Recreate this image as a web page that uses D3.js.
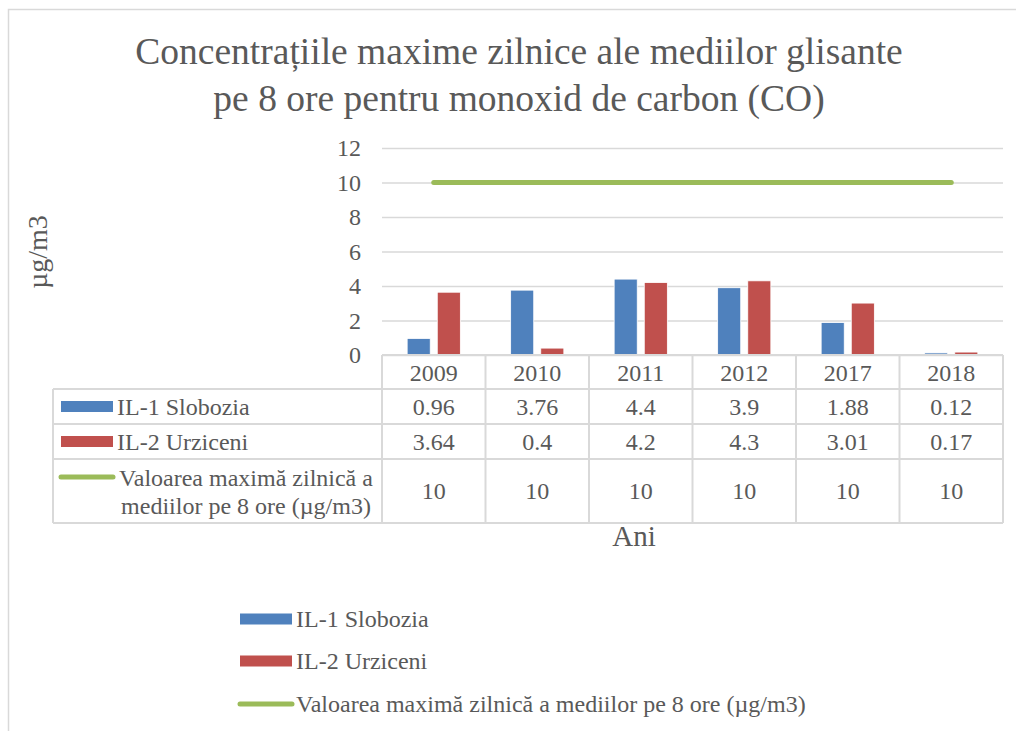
<!DOCTYPE html>
<html>
<head>
<meta charset="utf-8">
<script src="https://cdn.jsdelivr.net/npm/d3@7"></script>
<style>
  body { margin: 0; background: #fff; }
  svg, svg text { font-family: 'Times New Roman', 'Liberation Serif', 'DejaVu Serif', serif !important; }
</style>
</head>
<body>
<div id="chart"></div>
<script>
// values
const years = ['2009', '2010', '2011', '2012', '2017', '2018'];
const slobozia = [0.96, 3.76, 4.4, 3.9, 1.88, 0.12];
const urziceni = [3.64, 0.4, 4.2, 4.3, 3.01, 0.17];
const limit = [10, 10, 10, 10, 10, 10];
const yTicks = [0, 2, 4, 6, 8, 10, 12];
const seriesNames = ['IL-1 Slobozia', 'IL-2 Urziceni', 'Valoarea maximă zilnică a mediilor pe 8 ore (µg/m3)'];
const titleLines = ['Concentrațiile maxime zilnice ale mediilor glisante', 'pe 8 ore pentru monoxid de carbon (CO)'];

const width = 1016, height = 731;
const colors = ['#4f81bd', '#c0504d', '#9bbb59'];
const grid = '#d9d9d9';
const textCol = '#595959';
const serif = "'Times New Roman', 'Liberation Serif', serif";
const fs = 24;

const svg = d3.select('#chart').append('svg')
    .attr('width', width)
    .attr('height', height)
    .attr('font-family', serif);

// outer chart border (runs off the page right and bottom)
svg.append('rect')
    .attr('x', 8.5).attr('y', 9.5)
    .attr('width', 1100).attr('height', 800)
    .attr('fill', 'none')
    .attr('stroke', grid)
    .attr('stroke-width', 1.5);

// title
svg.append('text')
    .attr('x', 519).attr('y', 64)
    .attr('text-anchor', 'middle')
    .attr('font-size', 37.5)
    .attr('fill', textCol)
    .selectAll('tspan')
    .data(titleLines)
    .join('tspan')
    .attr('x', 519)
    .attr('dy', (d, i) => i ? 47 : 0)
    .text(d => d);

const plot = {left: 382, right: 1003, top: 148, bottom: 355};

const x = d3.scaleBand()
    .domain(years)
    .range([plot.left, plot.right]);

const y = d3.scaleLinear()
    .domain([0, 12])
    .range([plot.bottom, plot.top]);

const xs = d3.scaleBand()
    .domain([0, 1])
    .range([x.bandwidth() * 0.243, x.bandwidth() * 0.757])
    .paddingInner(7 / 30);

// gridlines + tick labels
const yAxis = d3.axisLeft(y)
    .tickValues(yTicks)
    .tickSize(-(plot.right - plot.left))
    .tickPadding(21);

const gy = svg.append('g')
    .attr('transform', `translate(${plot.left},0)`)
    .call(yAxis)
    .attr('font-family', serif);
gy.select('.domain').remove();
gy.selectAll('.tick line')
    .attr('stroke', grid)
    .attr('stroke-width', 1.5);
gy.selectAll('.tick text')
    .attr('font-size', fs)
    .attr('fill', textCol);

// y title
svg.append('text')
    .attr('transform', 'translate(47,252) rotate(-90)')
    .attr('text-anchor', 'middle')
    .attr('font-size', 28)
    .attr('fill', textCol)
    .text('µg/m3');

// bars
const barData = [slobozia, urziceni];
barData.forEach((vals, s) => {
    svg.append('g')
        .selectAll('rect')
        .data(vals)
        .join('rect')
        .attr('x', (d, i) => x(years[i]) + xs(s))
        .attr('y', d => y(d))
        .attr('width', xs.bandwidth())
        .attr('height', d => y(0) - y(d))
        .attr('fill', colors[s])
        .attr('stroke', '#fff')
        .attr('stroke-width', 0.8);
});

// limit line
const line = d3.line()
    .x((d, i) => x(years[i]) + x.bandwidth() / 2)
    .y(d => y(d));

svg.append('path')
    .datum(limit)
    .attr('d', line)
    .attr('fill', 'none')
    .attr('stroke', colors[2])
    .attr('stroke-width', 5)
    .attr('stroke-linecap', 'round');

// data table
const tbl = {left: 53, rows: [355, 389, 424, 459, 523]};
const tg = svg.append('g');
const lineAttr = sel => sel.attr('stroke', grid).attr('stroke-width', 2);

// horizontal lines
tbl.rows.forEach((ry, i) => {
    tg.append('line')
        .attr('x1', i === 0 ? plot.left : tbl.left)
        .attr('x2', plot.right)
        .attr('y1', ry).attr('y2', ry)
        .call(lineAttr);
});
// vertical lines
tg.append('line')
    .attr('x1', tbl.left).attr('x2', tbl.left)
    .attr('y1', tbl.rows[1]).attr('y2', tbl.rows[4])
    .call(lineAttr);
years.concat(['end']).forEach((yr, i) => {
    const vx = i < years.length ? x(yr) : plot.right;
    tg.append('line')
        .attr('x1', vx).attr('x2', vx)
        .attr('y1', tbl.rows[0]).attr('y2', tbl.rows[4])
        .call(lineAttr);
});

// year header
tg.selectAll('text.year')
    .data(years)
    .join('text')
    .attr('class', 'year')
    .attr('x', d => x(d) + x.bandwidth() / 2)
    .attr('y', (tbl.rows[0] + tbl.rows[1]) / 2 + 9)
    .attr('text-anchor', 'middle')
    .attr('font-size', fs)
    .attr('fill', textCol)
    .text(d => d);

// value rows
[slobozia, urziceni, limit].forEach((vals, r) => {
    const cy = (tbl.rows[r + 1] + tbl.rows[r + 2]) / 2;
    tg.append('g')
        .selectAll('text')
        .data(vals)
        .join('text')
        .attr('x', (d, i) => x(years[i]) + x.bandwidth() / 2)
        .attr('y', cy + 8)
        .attr('text-anchor', 'middle')
        .attr('font-size', fs)
        .attr('fill', textCol)
        .text(d => d);
});

// row keys
[0, 1].forEach(r => {
    const cy = (tbl.rows[r + 1] + tbl.rows[r + 2]) / 2;
    tg.append('rect')
        .attr('x', 61).attr('y', cy - 5.5)
        .attr('width', 52).attr('height', 11)
        .attr('fill', colors[r]);
    tg.append('text')
        .attr('x', 117).attr('y', cy + 8)
        .attr('font-size', fs)
        .attr('fill', textCol)
        .text(seriesNames[r]);
});
{
    const cy = (tbl.rows[3] + tbl.rows[4]) / 2;
    tg.append('line')
        .attr('x1', 61).attr('x2', 113)
        .attr('y1', tbl.rows[3] + 18).attr('y2', tbl.rows[3] + 18)
        .attr('stroke', colors[2])
        .attr('stroke-width', 5)
        .attr('stroke-linecap', 'round');
    tg.append('text')
        .attr('text-anchor', 'middle')
        .attr('font-size', fs)
        .attr('fill', textCol)
        .selectAll('tspan')
        .data(['Valoarea maximă zilnică a', 'mediilor pe 8 ore (µg/m3)'])
        .join('tspan')
        .attr('x', 246)
        .attr('y', (d, i) => cy - 5 + i * 28)
        .text(d => d);
}

// x title
svg.append('text')
    .attr('x', 634).attr('y', 546)
    .attr('text-anchor', 'middle')
    .attr('font-size', 29)
    .attr('fill', textCol)
    .text('Ani');

// legend
const legY = [619, 661, 704];
const lg = svg.append('g');
seriesNames.forEach((name, i) => {
    if (i < 2) {
        lg.append('rect')
            .attr('x', 240).attr('y', legY[i] - 5.5)
            .attr('width', 52).attr('height', 11)
            .attr('fill', colors[i]);
    } else {
        lg.append('line')
            .attr('x1', 240).attr('x2', 292)
            .attr('y1', legY[i]).attr('y2', legY[i])
            .attr('stroke', colors[i])
            .attr('stroke-width', 5)
            .attr('stroke-linecap', 'round');
    }
    lg.append('text')
        .attr('x', 296).attr('y', legY[i] + 8)
        .attr('font-size', fs)
        .attr('fill', textCol)
        .text(name);
});
</script>
</body>
</html>
